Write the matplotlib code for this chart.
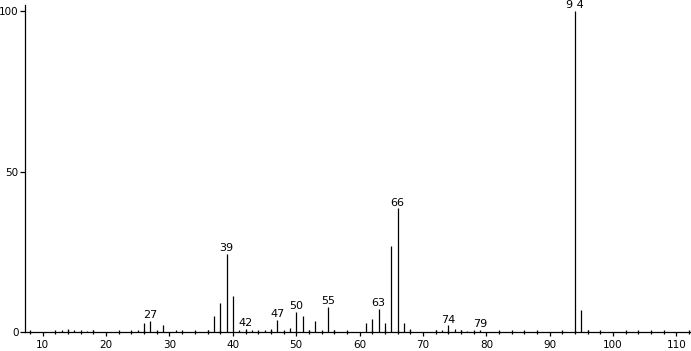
import matplotlib
matplotlib.use("Agg")
import matplotlib.pyplot as plt
from matplotlib.ticker import MultipleLocator

# m/z values and relative intensities
mz = [13, 14, 15, 17, 18, 25, 26, 27, 29, 31, 36, 37, 38, 39, 40, 41, 42, 43,
      45, 46, 47, 49, 50, 51, 52, 53, 55, 56, 61, 62, 63, 64, 65, 66, 67, 68,
      72, 73, 74, 75, 76, 77, 79, 94, 95, 96]
intensity = [0.5, 0.8, 0.5, 0.4, 0.6, 0.7, 2.9, 3.4, 2.3, 0.5, 0.5, 5.1, 9.1,
             24.3, 11.3, 0.6, 0.9, 0.6, 0.5, 0.8, 3.7, 1.2, 6.2, 5.0, 0.6, 3.4,
             7.8, 0.5, 2.8, 4.2, 7.3, 2.8, 26.8, 38.5, 2.8, 0.9, 0.6, 0.7, 2.1,
             0.9, 0.6, 0.4, 0.6, 100.0, 6.9, 0.5]
labelled = [27, 39, 42, 47, 50, 55, 63, 66, 74, 79, 94]
label_text = {94: "9 4"}

fig = plt.figure(figsize=(6.91, 3.51), dpi=100)
ax = fig.add_axes([0.0362, 0.0541, 0.9638, 0.9317])

ax.vlines(mz, 0, intensity, color="black", linewidth=0.9)

for m in labelled:
    h = intensity[mz.index(m)]
    ax.annotate(label_text.get(m, str(m)), (m, h), xytext=(0, 0.5),
                textcoords="offset points", ha="center", va="bottom",
                fontsize=8)

ax.set_xlim(7.2, 112.3)
ax.set_ylim(0, 101.9)
ax.xaxis.set_major_locator(MultipleLocator(10))
ax.xaxis.set_minor_locator(MultipleLocator(2))
ax.set_yticks([0, 50, 100])
ax.tick_params(axis="x", which="major", length=3, width=0.9, labelsize=7.5, pad=3)
ax.tick_params(axis="x", which="minor", length=2.5, width=0.9, direction="inout")
ax.tick_params(axis="y", length=3.5, width=0.9, labelsize=7.5, pad=1)

for side in ["top", "right"]:
    ax.spines[side].set_visible(False)
for side in ["left", "bottom"]:
    ax.spines[side].set_linewidth(0.9)

fig.savefig("out.png", dpi=100)
